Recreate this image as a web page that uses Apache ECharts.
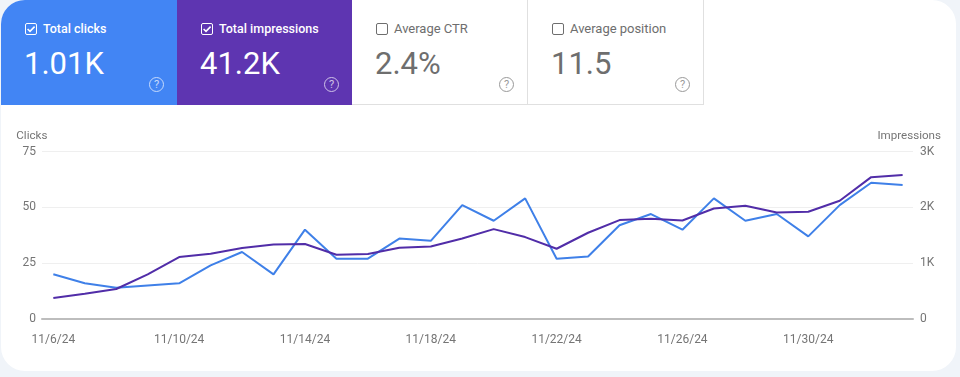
<!DOCTYPE html>
<html>
<head>
<meta charset="utf-8">
<title>Performance</title>
<script src="https://cdn.jsdelivr.net/npm/echarts@6/dist/echarts.min.js"></script>
<style>
  html, body { margin: 0; padding: 0; width: 960px; height: 377px; overflow: hidden; background: #f0f4f9; font-family: Roboto, sans-serif; }
  .panel { position: absolute; left: 1px; top: 0; width: 955px; height: 371px; background: #fff; border-radius: 24px; overflow: hidden; }
  .tile { position: absolute; top: 0; height: 105px; box-sizing: border-box; color: #6e6e6e; border-right: 1px solid #e0e0e0; border-bottom: 1px solid #e0e0e0; }
  .tile.on { color: #fff; border: none; }
  .tile .label { position: absolute; left: 42px; top: 20px; font-size: 12.5px; line-height: 18px; font-weight: 500; white-space: nowrap; }
  .tile:not(.on) .label { font-weight: 400; font-size: 13px; letter-spacing: -0.02px; }
  .tile .value { position: absolute; left: 23px; top: 44px; font-size: 31px; line-height: 40px; white-space: nowrap; }
  .box { position: absolute; left: 24px; top: 23px; width: 10px; height: 10px; border: 1.5px solid currentColor; border-radius: 2px; }
  .box svg { position: absolute; left: 0; top: 0; }
  .help { position: absolute; right: 13px; top: 77px; width: 13px; height: 13px; border: 1.2px solid currentColor; border-radius: 50%; font-size: 11px; line-height: 13px; text-align: center; opacity: .7; }
  #chart { position: absolute; left: 0; top: 0; width: 960px; height: 377px; }
</style>
</head>
<body>
<div class="panel" id="panel"></div>
<div id="chart"></div>
<script>
const dates = ['11/6/24', '11/7/24', '11/8/24', '11/9/24', '11/10/24', '11/11/24', '11/12/24', '11/13/24', '11/14/24', '11/15/24',
  '11/16/24', '11/17/24', '11/18/24', '11/19/24', '11/20/24', '11/21/24', '11/22/24', '11/23/24', '11/24/24', '11/25/24',
  '11/26/24', '11/27/24', '11/28/24', '11/29/24', '11/30/24', '12/1/24', '12/2/24', '12/3/24']
const dateTicks = [0, 4, 8, 12, 16, 20, 24]
const clicks = [20, 16, 14, 15, 16, 24, 30, 20, 40, 27, 27, 36, 35, 51, 44, 54, 27, 28, 42, 47, 40, 54, 44, 47, 37, 51, 61, 60]
const impressions = [376, 453, 537, 800, 1109, 1169, 1270, 1336, 1342, 1151, 1163, 1276, 1300, 1443, 1610, 1467, 1258, 1545, 1771, 1795,
  1765, 1980, 2028, 1909, 1920, 2117, 2541, 2577]
const tiles = [
  { label: 'Total clicks', value: '1.01K', left: 0, width: 176, bg: '#4285f4', on: true },
  { label: 'Total impressions', value: '41.2K', left: 176, width: 175, bg: '#5e35b1', on: true },
  { label: 'Average CTR', value: '2.4%', left: 351, width: 176, bg: '#fff', on: false },
  { label: 'Average position', value: '11.5', left: 527, width: 176, bg: '#fff', on: false }
]

const panel = document.getElementById('panel')
tiles.forEach(t => {
  const check = t.on ? '<svg width="10" height="10" viewBox="0 0 10 10"><path d="M1.6 5 L4 7.4 L8.6 2.6" fill="none" stroke="#fff" stroke-width="1.6"/></svg>' : ''
  panel.insertAdjacentHTML('beforeend',
    `<div class="tile ${t.on ? 'on' : ''}" style="left:${t.left}px;width:${t.width}px;background:${t.bg}">
      <span class="box">${check}</span>
      <span class="label">${t.label}</span>
      <span class="value">${t.value}</span>
      <span class="help">?</span>
    </div>`)
})

const axisText = { color: '#757575', fontFamily: 'Roboto', fontSize: 12 }
const chart = echarts.init(document.getElementById('chart'), null, { renderer: 'canvas' })
chart.setOption({
  animation: false,
  backgroundColor: 'transparent',
  grid: { left: 42, right: 47, top: 151.5, bottom: 58 },
  xAxis: {
    type: 'value',
    min: -0.36,
    max: 27.33,
    splitLine: { show: false },
    axisTick: { show: false },
    axisLine: { show: true, onZero: false, lineStyle: { color: '#bdbdbd', width: 2 } },
    axisLabel: {
      ...axisText,
      margin: 15,
      customValues: dateTicks,
      formatter: v => dates[v]
    }
  },
  yAxis: [
    {
      type: 'value',
      name: 'Clicks',
      nameLocation: 'end',
      nameGap: 9,
      nameTextStyle: { ...axisText, fontSize: 11.6, align: 'left', padding: [0, 0, 0, -37] },
      min: 0,
      max: 75,
      interval: 25,
      axisLine: { show: false },
      axisTick: { show: false },
      axisLabel: { ...axisText, margin: 6 },
      splitLine: { lineStyle: { color: '#efefef', width: 1 } }
    },
    {
      type: 'value',
      name: 'Impressions',
      nameLocation: 'end',
      nameGap: 9,
      nameTextStyle: { ...axisText, fontSize: 11.6, align: 'right', padding: [0, -28, 0, 0] },
      min: 0,
      max: 3000,
      interval: 1000,
      axisLine: { show: false },
      axisTick: { show: false },
      axisLabel: { ...axisText, margin: 7, formatter: v => (v === 0 ? '0' : v / 1000 + 'K') },
      splitLine: { show: false }
    }
  ],
  series: [
    {
      name: 'Clicks',
      type: 'line',
      yAxisIndex: 0,
      data: clicks.map((v, i) => [i, v]),
      showSymbol: false,
      lineStyle: { color: '#3f80e8', width: 2 },
      z: 2
    },
    {
      name: 'Impressions',
      type: 'line',
      yAxisIndex: 1,
      data: impressions.map((v, i) => [i, v]),
      showSymbol: false,
      lineStyle: { color: '#512da8', width: 2 },
      z: 3
    }
  ]
})
</script>
</body>
</html>
